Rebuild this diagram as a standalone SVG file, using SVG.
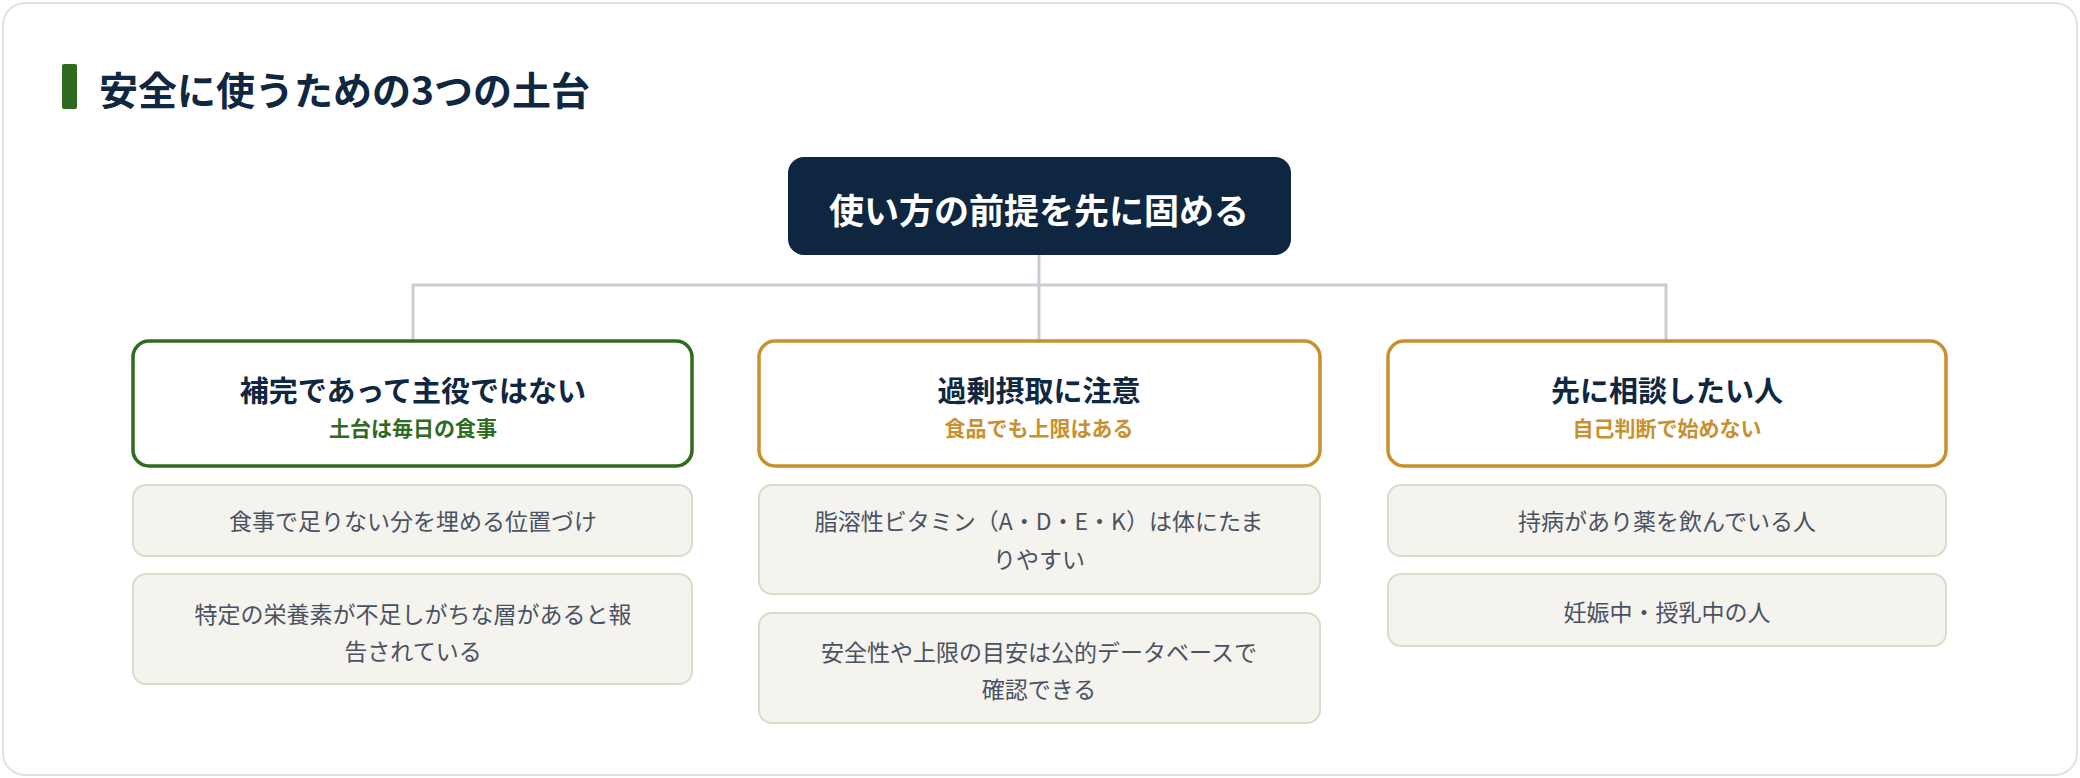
<svg xmlns="http://www.w3.org/2000/svg" width="2080" height="778" viewBox="0 0 2080 778">
<style>
text{font-family:"Noto Sans CJK JP","Noto Sans",sans-serif;text-anchor:middle;dominant-baseline:central}
.h{font-size:29px;font-weight:700;fill:#0f2740}
.s{font-size:21px;font-weight:700}
.it{font-size:23px;fill:#4a5262}
.item{fill:#f4f3ee;stroke:#dcdbc9;stroke-width:2}
.g{fill:#fff;stroke:#2e6b1f;stroke-width:3.5}
.o{fill:#fff;stroke:#c8902f;stroke-width:3.5}
</style>
<rect x="3" y="3" width="2074" height="772" rx="22" fill="#fff" stroke="#e5e3d6" stroke-width="2"/>
<rect x="62" y="64" width="15" height="45" rx="2" fill="#2e6b1f"/>
<text x="99" y="88" style="text-anchor:start;font-size:39px;font-weight:700;fill:#0f2740">安全に使うための3つの土台</text>
<g id="connectors" fill="none" stroke="#c8ccd4" stroke-width="3">
<path d="M1039 255V285M413 341V285H1666V341M1039 285V341"/>
</g>
<g id="root"><rect x="788" y="157" width="503" height="98" rx="16" fill="#0f2640"/>
<text x="1039" y="208" style="font-size:35px;font-weight:700;fill:#fff">使い方の前提を先に固める</text></g>
<g id="col1"><rect class="g" x="133" y="341" width="559" height="125" rx="16"/>
<text class="h" x="413" y="389">補完であって主役ではない</text>
<text class="s" x="413" y="427" fill="#2e6b1f">土台は毎日の食事</text></g>
<g id="col1a"><rect class="item" x="133" y="485" width="559" height="71" rx="13"/><text class="it" x="413" y="520">食事で足りない分を埋める位置づけ</text></g>
<g id="col1b"><rect class="item" x="133" y="574" width="559" height="110" rx="13"/><text class="it" x="413" y="613">特定の栄養素が不足しがちな層があると報</text><text class="it" x="413" y="650">告されている</text></g>
<g id="col2"><rect class="o" x="759" y="341" width="561" height="125" rx="16"/>
<text class="h" x="1039" y="389">過剰摂取に注意</text>
<text class="s" x="1039" y="427" fill="#c8902f">食品でも上限はある</text></g>
<g id="col2a"><rect class="item" x="759" y="485" width="561" height="109" rx="13"/><text class="it" x="1039" y="520">脂溶性ビタミン（A・D・E・K）は体にたま</text><text class="it" x="1039" y="558">りやすい</text></g>
<g id="col2b"><rect class="item" x="759" y="613" width="561" height="110" rx="13"/><text class="it" x="1039" y="651">安全性や上限の目安は公的データベースで</text><text class="it" x="1039" y="688">確認できる</text></g>
<g id="col3"><rect class="o" x="1388" y="341" width="558" height="125" rx="16"/>
<text class="h" x="1667" y="389">先に相談したい人</text>
<text class="s" x="1667" y="427" fill="#c8902f">自己判断で始めない</text></g>
<g id="col3a"><rect class="item" x="1388" y="485" width="558" height="71" rx="13"/><text class="it" x="1667" y="520">持病があり薬を飲んでいる人</text></g>
<g id="col3b"><rect class="item" x="1388" y="574" width="558" height="72" rx="13"/><text class="it" x="1667" y="611">妊娠中・授乳中の人</text></g>
</svg>
